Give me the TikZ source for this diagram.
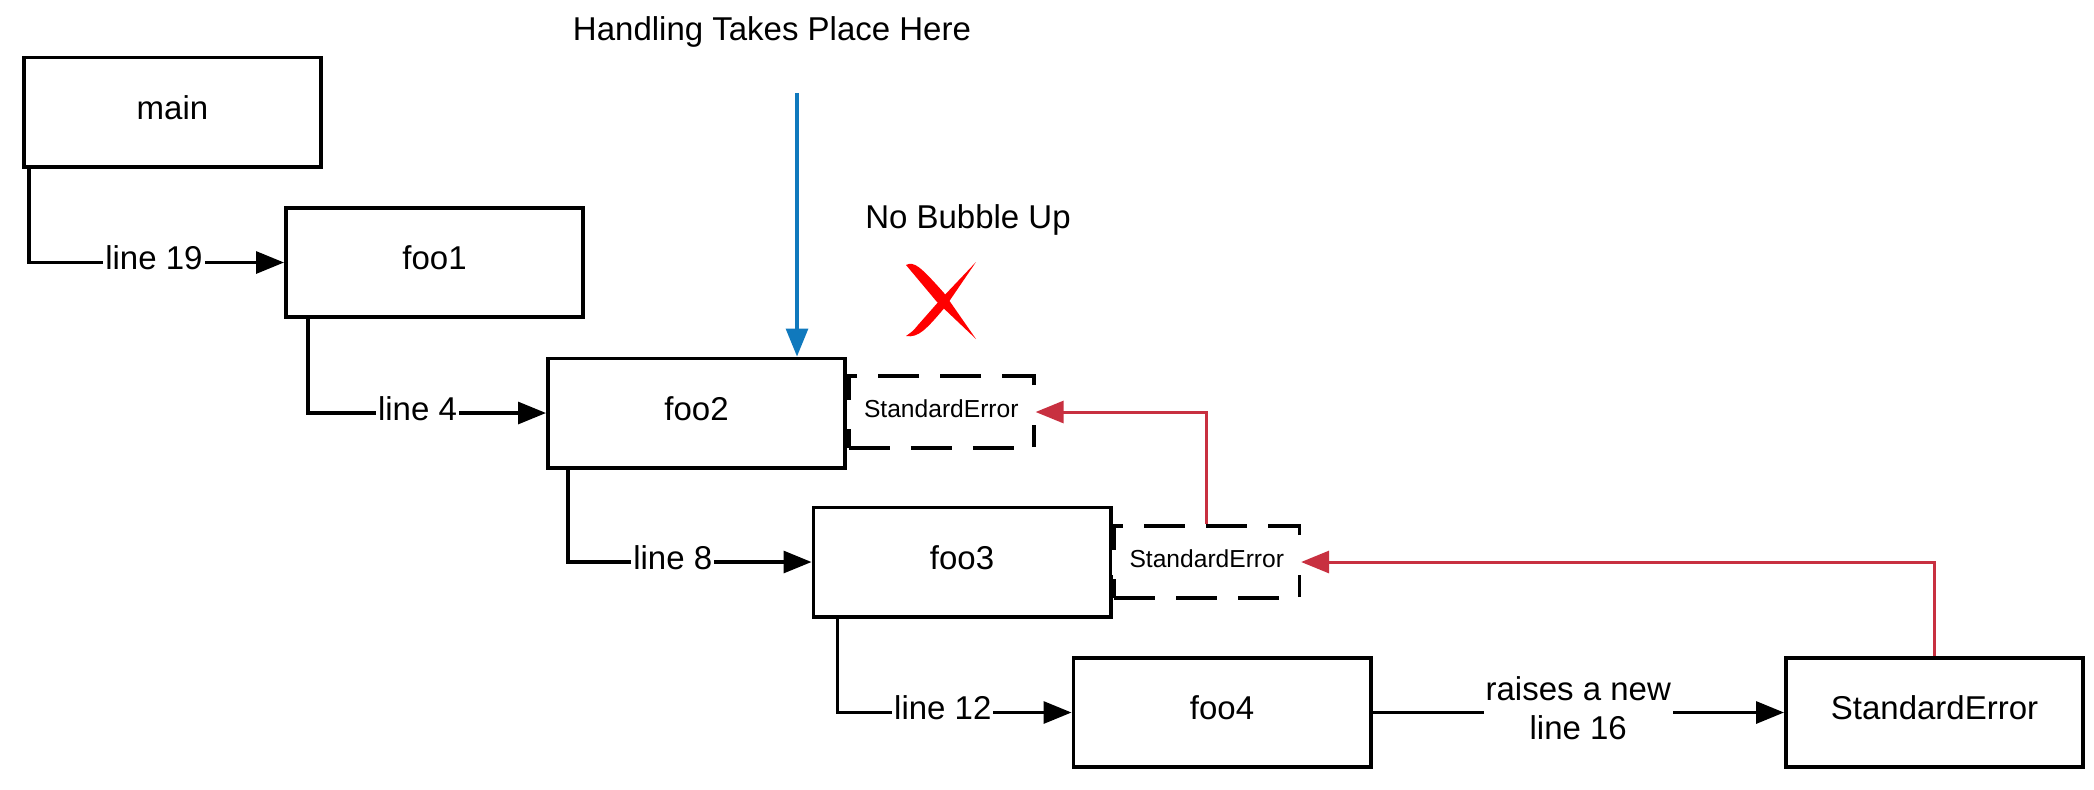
\documentclass[tikz,border=0pt]{standalone}
\usepackage{fontspec}
\setmainfont{Liberation Sans}
\usetikzlibrary{arrows.meta}
\definecolor{errred}{RGB}{200,48,64}
\definecolor{handblue}{RGB}{16,121,189}
\definecolor{xred}{RGB}{255,0,0}
\begin{document}
\begin{tikzpicture}[x=0.5pt,y=-0.5pt,
  box/.style={draw=black, line width=1.8pt, minimum width=148.7pt, minimum height=54.7pt, inner sep=0pt, text height=12pt, text depth=5pt, font=\fontsize{16.5pt}{19.5pt}\selectfont},
  dbox/.style={draw=black, line width=1.8pt, dash pattern=on 20.5pt off 10.5pt, minimum width=92.5pt, minimum height=36.2pt, inner sep=0pt, anchor=west},
  selab/.style={fill=white, minimum width=94.5pt, minimum height=12pt, inner sep=0pt, text height=9pt, text depth=3.5pt, font=\fontsize{12.3pt}{14pt}\selectfont},
  conn/.style={line width=1.6pt, -{Triangle[length=14pt,width=11pt]}},
  elab/.style={fill=white, inner sep=1pt, text height=12pt, text depth=5pt, font=\fontsize{16.5pt}{19.5pt}\selectfont},
  ttl/.style={font=\fontsize{16.5pt}{19.5pt}\selectfont, inner sep=0pt}]
\useasboundingbox (0,0) rectangle (2094,789);

% boxes
\node[box] (main) at (172.5,112) {main};
\node[box] (foo1) at (434.5,262.5) {foo1};
\node[box] (foo2) at (696.5,413) {foo2};
\node[box] (foo3) at (962,562) {foo3};
\node[box] (foo4) at (1222,712.5) {foo4};
\node[box] (se) at (1934.5,712.5) {StandardError};

% dashed error boxes
\node[dbox] (se1) at ([yshift=0.5pt]foo2.east) {};
\node[dbox] (se2) at (foo3.east) {};
\node[selab] (se1t) at (se1) {StandardError};
\node[selab] (se2t) at (se2) {StandardError};

% call connectors
\draw[conn] ([xshift=3.5pt]main.south west) |- node[elab,pos=0.745]{line 19} (foo1.west);
\draw[conn] ([xshift=12pt]foo1.south west) |- node[elab,pos=0.73]{line 4} (foo2.west);
\draw[conn] ([xshift=11pt]foo2.south west) |- node[elab,pos=0.715]{line 8} (foo3.west);
\draw[conn] ([xshift=13pt]foo3.south west) |- node[elab,pos=0.725]{line 12} (foo4.west);
\draw[conn] (foo4) -- node[fill=white, inner sep=1pt, yshift=2pt, align=center, font=\fontsize{16.5pt}{19.5pt}\selectfont]{raises a new\\line 16} (se);

% error propagation
\draw[conn, errred, line width=1.5pt] (se.north) |- (se2.east);
\draw[conn, errred, line width=1.5pt] (se2.north) |- (se1.east);

% handling arrow
\coordinate (hstart) at (797,93);
\draw[conn, handblue] (hstart) -- (hstart |- foo2.north);

% titles
\node[ttl] (handling) at (772,32) {Handling Takes Place Here};
\node[ttl] (nobubble) at (968,220) {No Bubble Up};

% red X
\fill[xred] (906,265) .. controls (914,261) and (920,266) .. (944,293) -- (976,339) -- (937,302) -- cycle;
\fill[xred] (906,336) .. controls (918,338) and (926,330) .. (946,306) -- (976,262) -- (940,300) -- (918,325) .. controls (913,331) .. (906,336) -- cycle;
\end{tikzpicture}
\end{document}
